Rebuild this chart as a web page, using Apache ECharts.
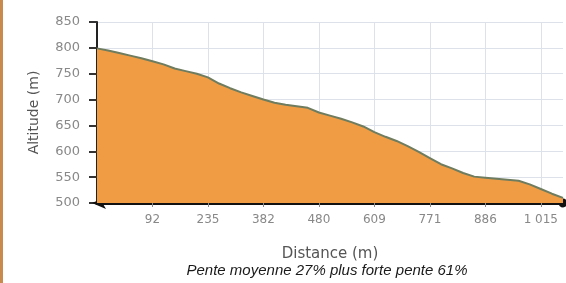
<!DOCTYPE html>
<html>
<head>
    <meta charset="utf-8">
    <title>Profil altimétrique</title>
    <script src="https://cdn.jsdelivr.net/npm/echarts@6/dist/echarts.min.js"></script>
    <style>
        html, body { margin: 0; padding: 0; background: #fff; }
        #main { width: 566px; height: 283px; }
    </style>
</head>
<body>
    <div id="main"></div>
    <script type="text/javascript">
        // distances (m) de chaque point du profil
        var distances = [0, 18, 37, 55, 74, 92, 121, 149, 178, 206, 235, 264, 294, 323, 353, 382, 402, 421, 441, 460,
            480, 506, 532, 557, 583, 609, 641, 674, 706, 739, 771, 794, 817, 840, 863, 886, 912, 938, 963, 989,
            1015, 1041, 1066];
        // altitude (m)
        var altitudes = [799, 795, 790, 785, 780, 774, 768, 760, 755, 750, 743, 731, 722, 714, 707, 700, 694, 690, 687, 684,
            675, 669, 663, 656, 648, 637, 628, 620, 610, 599, 587, 575, 567, 558, 551, 549, 547, 545, 543, 536,
            527, 518, 510];
        // points dont la distance est affichée sur l'axe
        var labelIdx = [5, 10, 15, 20, 25, 30, 35, 40];
        var yTicks = [500, 550, 600, 650, 700, 750, 800, 850];

        function showIdx(index) {
            return labelIdx.indexOf(index) >= 0;
        }

        var myChart = echarts.init(document.getElementById('main'));
        var option = {
            backgroundColor: '#fff',
            animation: false,
            grid: { left: 97, right: 3, top: 22, bottom: 80 },
            graphic: [
                { type: 'rect', left: 0, top: 0, shape: { width: 3, height: 283 }, style: { fill: '#c98a4e' } },
                {
                    type: 'text', x: 327, y: 263,
                    style: {
                        text: 'Pente moyenne 27% plus forte pente 61%',
                        font: 'italic 15px "Liberation Sans", Arial, sans-serif',
                        fill: '#1a1a1a', textAlign: 'center'
                    }
                }
            ],
            xAxis: {
                type: 'category',
                boundaryGap: false,
                data: distances,
                name: 'Distance (m)',
                nameLocation: 'middle',
                nameGap: 44,
                nameTextStyle: { color: '#555', fontSize: 15, fontFamily: 'DejaVu Sans' },
                axisLine: {
                    lineStyle: { color: '#111', width: 3 },
                    symbol: ['arrow', 'circle'],
                    symbolSize: [9, 14],
                    symbolOffset: [-5, 0]
                },
                axisTick: { interval: showIdx, length: 4, lineStyle: { color: '#888' } },
                axisLabel: {
                    interval: showIdx,
                    color: '#888',
                    fontSize: 12,
                    fontFamily: 'DejaVu Sans',
                    margin: 11,
                    formatter: function (v) {
                        return String(v).replace(/\B(?=(\d{3})+(?!\d))/g, ' ');
                    }
                },
                splitLine: { show: true, interval: showIdx, lineStyle: { color: '#dde2ea', width: 1 } }
            },
            yAxis: {
                type: 'value',
                min: yTicks[0],
                max: yTicks[yTicks.length - 1],
                interval: 50,
                name: 'Altitude (m)',
                nameLocation: 'middle',
                nameGap: 56,
                nameRotate: 90,
                nameTextStyle: { color: '#555', fontSize: 14, fontFamily: 'DejaVu Sans' },
                axisLine: { show: true, lineStyle: { color: '#222', width: 2 } },
                axisTick: { show: true, length: 8, lineStyle: { color: '#333', width: 2 } },
                axisLabel: { color: '#888', fontSize: 13, fontFamily: 'DejaVu Sans', margin: 17 },
                splitLine: { lineStyle: { color: '#dde2ea', width: 1 } }
            },
            series: [{
                name: 'Altitude',
                type: 'line',
                data: altitudes,
                symbol: 'none',
                smooth: false,
                lineStyle: { color: '#6f7c5e', width: 2 },
                areaStyle: { color: '#ef9c45', opacity: 1 }
            }]
        };
        myChart.setOption(option);
    </script>
</body>
</html>
